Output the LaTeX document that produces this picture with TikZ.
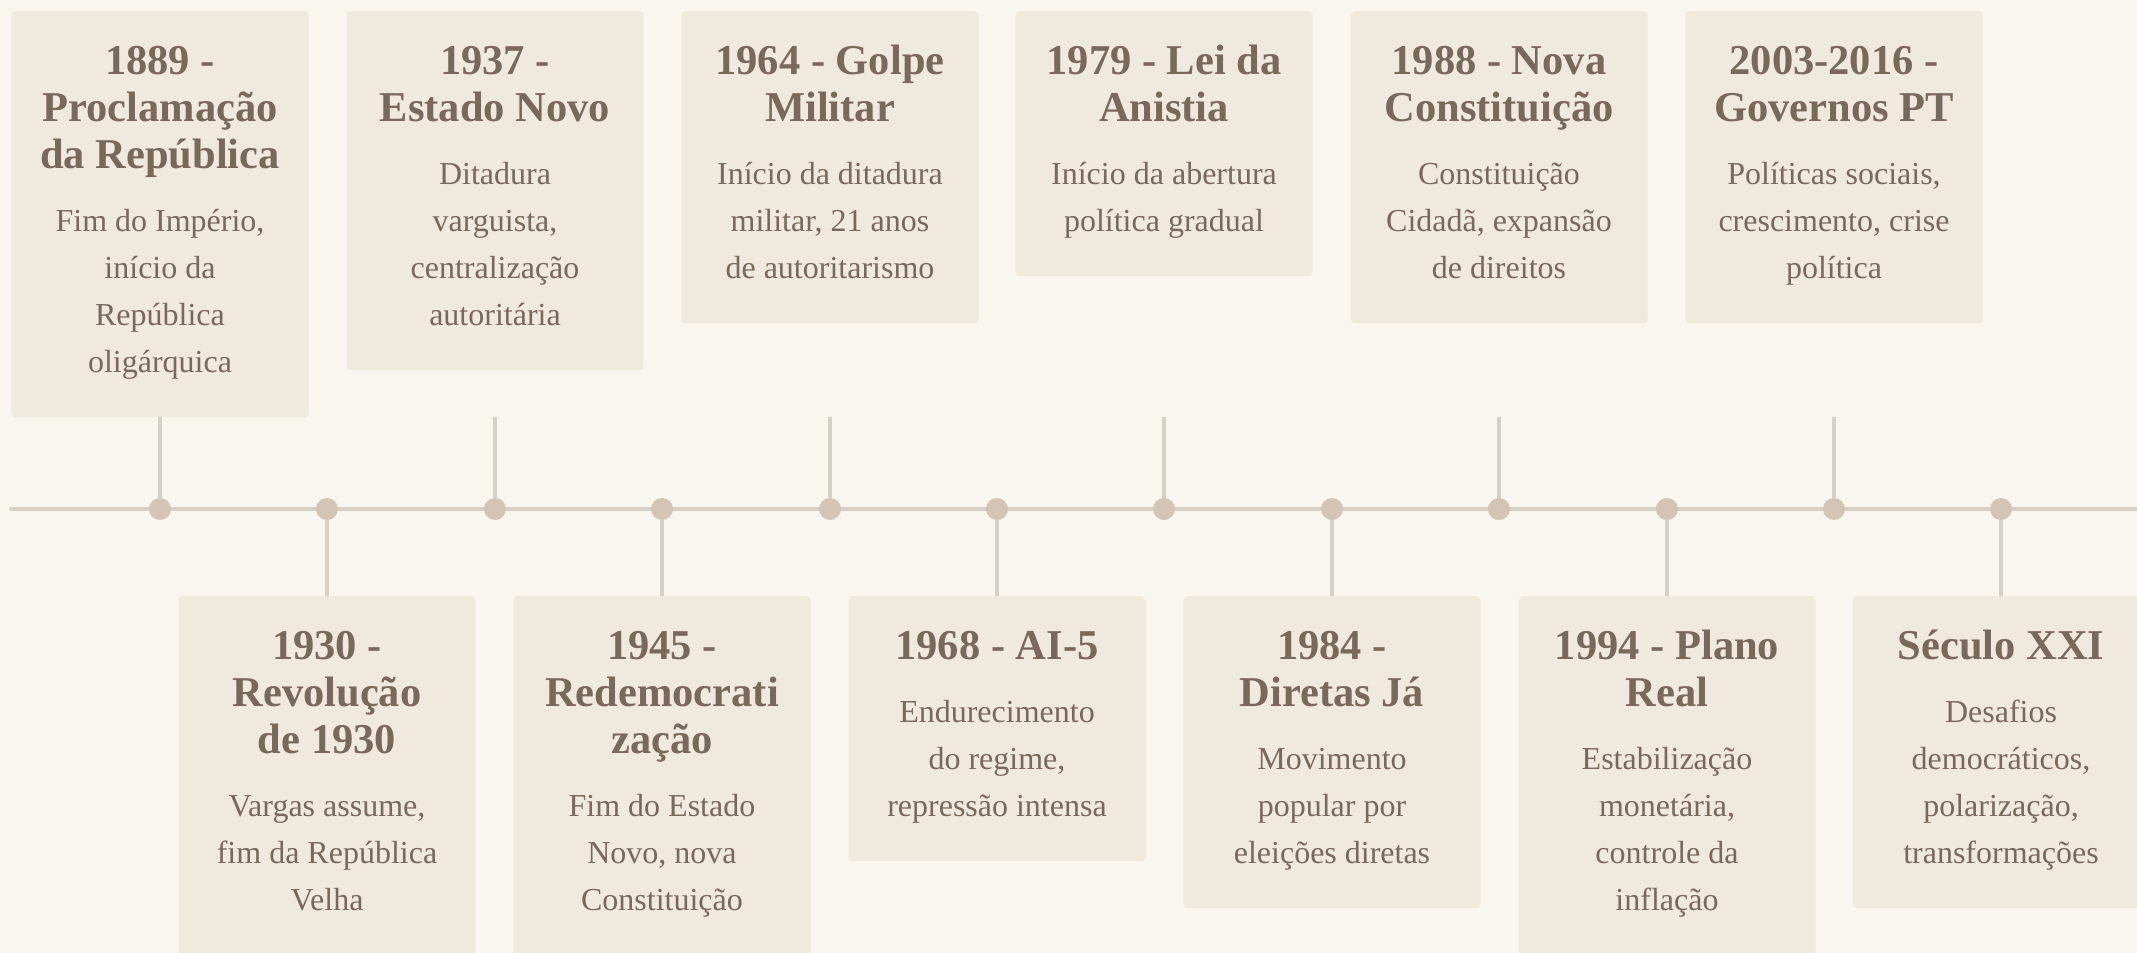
\documentclass[tikz,border=0pt]{standalone}
\usepackage{fontspec}
\setmainfont{Liberation Serif}
\usetikzlibrary{calc}
\definecolor{PageClr}{RGB}{249,246,240}
\definecolor{CardClr}{RGB}{240,233,222}
\definecolor{InkClr}{RGB}{121,105,91}
\definecolor{LineClr}{RGB}{215,208,199}
\definecolor{DotClr}{RGB}{212,196,181}
\newcommand{\cardhead}[1]{{\fontsize{42.5}{47}\selectfont\bfseries\spaceskip=.25em\xspaceskip=.25em\strut #1\strut\par}\vspace{16pt}}
\newcommand{\cardbody}[1]{{\fontsize{32}{47}\selectfont\spaceskip=.25em\xspaceskip=.25em\strut #1\strut\par}}

\begin{document}
\begin{tikzpicture}[x=1pt,y=-1pt,
  card/.style={fill=CardClr,rounded corners=4pt,text=InkClr,text width=257pt,
    inner xsep=20pt,inner ysep=30.5pt,align=center,anchor=north},
  dot/.style={circle,fill=DotClr,minimum size=22pt,inner sep=0pt},
  axis/.style={LineClr,line width=4.5pt,line cap=round},
  stem/.style={LineClr,line width=3.5pt}]

\fill[PageClr] (0,0) rectangle (2137,953);
\useasboundingbox (0,0) rectangle (2137,953);

\coordinate (start) at (11,509);
\coordinate (end) at (2160,509);
\draw[axis] (start) -- (end);

\node[card] (c1889) at (160,11) {\cardhead{1889 -\\Proclamação\\da República}\cardbody{Fim do Império,\\início da\\República\\oligárquica}};
\node[card] (c1937) at (495,11) {\cardhead{1937 -\\Estado Novo}\cardbody{Ditadura\\varguista,\\centralização\\autoritária}};
\node[card] (c1964) at (830,11) {\cardhead{1964 - Golpe\\Militar}\cardbody{Início da ditadura\\militar, 21 anos\\de autoritarismo}};
\node[card] (c1979) at (1164,11) {\cardhead{1979 - Lei da\\Anistia}\cardbody{Início da abertura\\política gradual}};
\node[card] (c1988) at (1499,11) {\cardhead{1988 - Nova\\Constituição}\cardbody{Constituição\\Cidadã, expansão\\de direitos}};
\node[card] (c2003) at (1834,11) {\cardhead{2003-2016 -\\Governos PT}\cardbody{Políticas sociais,\\crescimento, crise\\política}};

\node[card] (c1930) at (327,596) {\cardhead{1930 -\\Revolução\\de 1930}\cardbody{Vargas assume,\\fim da República\\Velha}};
\node[card] (c1945) at (662,596) {\cardhead{1945 -\\Redemocrati\\zação}\cardbody{Fim do Estado\\Novo, nova\\Constituição}};
\node[card] (c1968) at (997,596) {\cardhead{1968 - AI-5}\cardbody{Endurecimento\\do regime,\\repressão intensa}};
\node[card] (c1984) at (1332,596) {\cardhead{1984 -\\Diretas Já}\cardbody{Movimento\\popular por\\eleições diretas}};
\node[card] (c1994) at (1667,596) {\cardhead{1994 - Plano\\Real}\cardbody{Estabilização\\monetária,\\controle da\\inflação}};
\node[card] (cXXI) at (2001,596) {\cardhead{Século XXI}\cardbody{Desafios\\democráticos,\\polarização,\\transformações}};

\coordinate (s1889) at (160,417);
\coordinate (s1937) at (495,417);
\coordinate (s1964) at (830,417);
\coordinate (s1979) at (1164,417);
\coordinate (s1988) at (1499,417);
\coordinate (s2003) at (1834,417);

\node[dot] (t1889) at (160,509) {};
\node[dot] (t1930) at (327,509) {};
\node[dot] (t1937) at (495,509) {};
\node[dot] (t1945) at (662,509) {};
\node[dot] (t1964) at (830,509) {};
\node[dot] (t1968) at (997,509) {};
\node[dot] (t1979) at (1164,509) {};
\node[dot] (t1984) at (1332,509) {};
\node[dot] (t1988) at (1499,509) {};
\node[dot] (t1994) at (1667,509) {};
\node[dot] (t2003) at (1834,509) {};
\node[dot] (tXXI) at (2001,509) {};

\draw[stem] (t1889) -- (s1889);
\draw[stem] (t1937) -- (s1937);
\draw[stem] (t1964) -- (s1964);
\draw[stem] (t1979) -- (s1979);
\draw[stem] (t1988) -- (s1988);
\draw[stem] (t2003) -- (s2003);

\draw[stem] (t1930) -- (c1930.north);
\draw[stem] (t1945) -- (c1945.north);
\draw[stem] (t1968) -- (c1968.north);
\draw[stem] (t1984) -- (c1984.north);
\draw[stem] (t1994) -- (c1994.north);
\draw[stem] (tXXI) -- (cXXI.north);

\end{tikzpicture}
\end{document}
